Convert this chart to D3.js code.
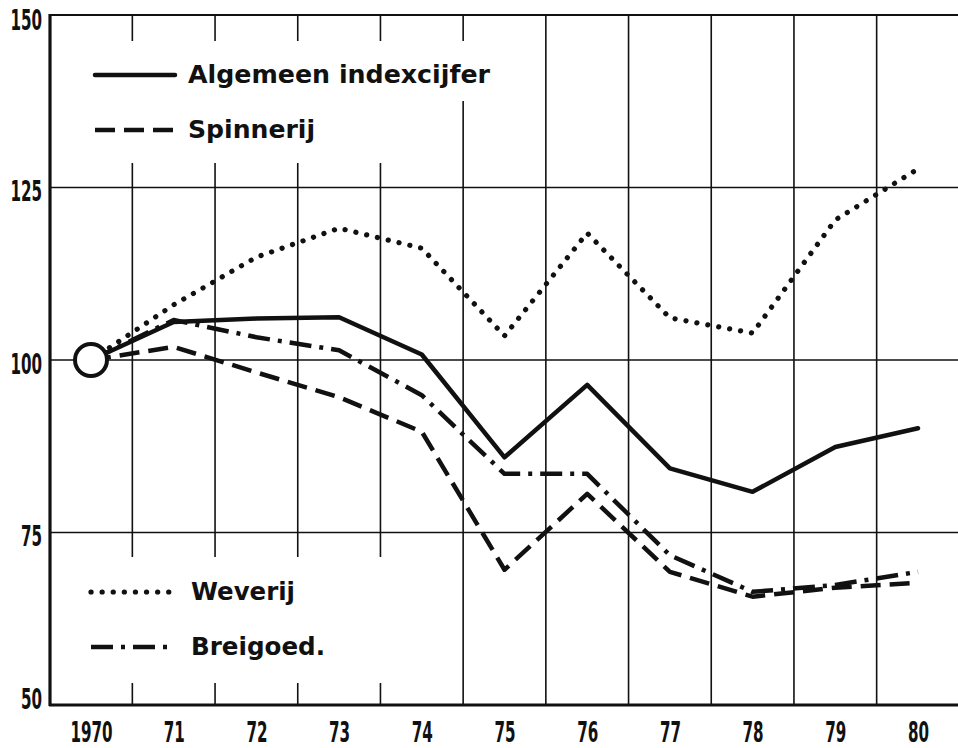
<!DOCTYPE html>
<html>
<head>
<meta charset="utf-8">
<script src="https://cdn.jsdelivr.net/npm/d3@7.9.0/dist/d3.min.js"></script>
<style>
  body { margin: 0; background: #fff; }
  svg { display: block; }
  .tick text { font-family: "DejaVu Sans Condensed", "DejaVu Sans", sans-serif; font-weight: bold; font-size: 29px; fill: #111; }
  .legend text { font-family: "DejaVu Sans", sans-serif; font-weight: bold; font-size: 24px; fill: #111; }
</style>
</head>
<body>
<svg id="chart" width="958" height="748"></svg>
<script>
const years = [1970, 1971, 1972, 1973, 1974, 1975, 1976, 1977, 1978, 1979, 1980];
const yearLabels = ['1970', '71', '72', '73', '74', '75', '76', '77', '78', '79', '80'];
const yTicks = [50, 75, 100, 125, 150];

// index values (1970 = 100)
const algemeen = [100, 105.5, 106, 106.2, 100.8, 85.9, 96.4, 84.3, 80.9, 87.4, 90.1];
const spinnerij = [100, 101.9, 98.2, 94.6, 89.6, 69.6, 80.6, 69.3, 65.7, 67.0, 67.7];
const weverij = [100, 108, 114.9, 119.1, 116.2, 103.5, 118.4, 106.1, 103.9, 120.3, 127.7];
const breigoed = [100, 105.8, 103.3, 101.4, 94.9, 83.5, 83.5, 71.7, 66.4, 67.4, 69.3];

const svg = d3.select('#chart');
const mLeft = 50, mBottom = 705, mTop = 15, mRight = 958;

const x = d3.scaleLinear().domain([1970, 1980]).range([91, 918]);
const y = d3.scaleLinear().domain([50, 150]).range([mBottom, mTop]);

// grid
const grid = svg.append('g');
grid.selectAll('line.h')
  .data(yTicks.filter(d => d > 50))
  .join('line')
  .attr('class', 'h')
  .attr('x1', mLeft).attr('x2', mRight)
  .attr('y1', d => y(d)).attr('y2', d => y(d))
  .attr('stroke', '#111')
  .attr('stroke-width', d => d === 150 ? 2.2 : 1.6);

grid.selectAll('line.v')
  .data(years.slice(0, -1).map(d => d + 0.5))
  .join('line')
  .attr('class', 'v')
  .attr('x1', d => x(d)).attr('x2', d => x(d))
  .attr('y1', mTop).attr('y2', mBottom)
  .attr('stroke', '#111')
  .attr('stroke-width', 1.6);

// white space behind the legends
grid.append('rect').attr('x', mLeft + 2).attr('y', 41).attr('width', 440).attr('height', 60).attr('fill', '#fff');
grid.append('rect').attr('x', mLeft + 2).attr('y', 41).attr('width', 350).attr('height', 122).attr('fill', '#fff');
grid.append('rect').attr('x', mLeft + 2).attr('y', 557).attr('width', 350).attr('height', 126).attr('fill', '#fff');

// frame
svg.append('line').attr('x1', mLeft).attr('x2', mLeft).attr('y1', mTop - 1).attr('y2', mBottom + 1)
  .attr('stroke', '#111').attr('stroke-width', 3.2);
svg.append('line').attr('x1', mLeft - 1).attr('x2', mRight).attr('y1', mBottom).attr('y2', mBottom)
  .attr('stroke', '#111').attr('stroke-width', 3.2);

// axes
const xAxis = svg.append('g')
  .attr('transform', `translate(0,${mBottom})`)
  .call(d3.axisBottom(x).tickValues(years).tickFormat((d, i) => yearLabels[i]).tickSize(0));
xAxis.select('.domain').remove();
xAxis.selectAll('text')
  .attr('y', 0).attr('dy', 0)
  .attr('transform', 'translate(0,37) scale(0.58,1)');

const yAxis = svg.append('g')
  .attr('transform', `translate(${mLeft},0)`)
  .call(d3.axisLeft(y).tickValues(yTicks).tickSize(0));
yAxis.select('.domain').remove();
yAxis.selectAll('text')
  .attr('x', 0).attr('dy', 0)
  .attr('transform', d => `translate(-8,${d === 50 ? 3 : d === 150 ? 14 : 13}) scale(0.58,1)`);

// series
const series = [
  { name: 'Algemeen indexcijfer', values: algemeen, dash: null, cap: 'round' },
  { name: 'Spinnerij', values: spinnerij, dash: '20,9', cap: 'butt' },
  { name: 'Weverij', values: weverij, dash: '0.1,11', cap: 'round' },
  { name: 'Breigoed.', values: breigoed, dash: '22,8,4,8', cap: 'butt' }
];

const line = d3.line()
  .x((d, i) => x(years[i]))
  .y(d => y(d));

series.forEach(s => {
  svg.append('path')
    .attr('d', line(s.values))
    .attr('fill', 'none')
    .attr('stroke', '#111')
    .attr('stroke-width', s.dash === '0.1,11' ? 5.2 : 4.5)
    .attr('stroke-linejoin', 'round')
    .attr('stroke-linecap', s.cap)
    .attr('stroke-dasharray', s.dash);
});

// base year marker
svg.append('circle')
  .attr('cx', x(1970)).attr('cy', y(100)).attr('r', 16)
  .attr('fill', '#fff').attr('stroke', '#111').attr('stroke-width', 4);

// legends
const legendPos = [
  { x1: 95, x2: 175, y: 75, tx: 188, w: 302 },
  { x1: 95, x2: 175, y: 130, tx: 188, w: 127 },
  { x1: 91, x2: 173, y: 592, tx: 191, w: 104 },
  { x1: 91, x2: 172, y: 647, tx: 191, w: 134 }
];
const legend = svg.append('g').attr('class', 'legend');
series.forEach((s, i) => {
  const p = legendPos[i];
  legend.append('line')
    .attr('x1', p.x1).attr('x2', p.x2).attr('y1', p.y).attr('y2', p.y)
    .attr('stroke', '#111')
    .attr('stroke-width', s.dash === '0.1,11' ? 5.2 : 4.5)
    .attr('stroke-linecap', s.cap)
    .attr('stroke-dasharray', s.dash);
  legend.append('text')
    .attr('x', p.tx).attr('y', p.y + 8)
    .attr('textLength', p.w)
    .attr('lengthAdjust', 'spacingAndGlyphs')
    .text(s.name);
});
</script>
</body>
</html>
